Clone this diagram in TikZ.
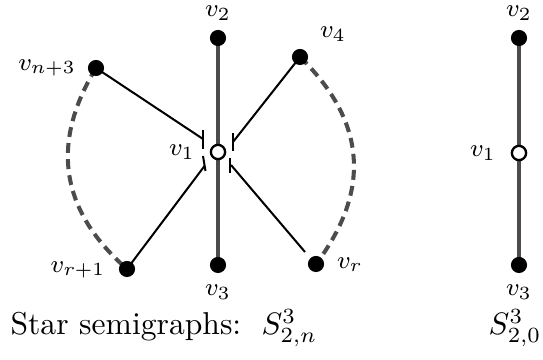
\documentclass[tikz,border=0pt]{standalone}
\begin{document}
\begin{tikzpicture}[x=0.3226pt,y=-0.3226pt,
  dot/.style={circle,fill=black,inner sep=0pt,minimum size=5.2pt},
  odot/.style={circle,draw=black,fill=white,line width=0.75pt,inner sep=0pt,minimum size=4.6pt},
  lbl/.style={inner sep=0pt,font=\fontsize{8}{10}\selectfont},
  captext/.style={inner sep=0pt,font=\fontsize{10.2}{12}\selectfont},
  semi/.style={draw=black!70,line width=1.4pt},
  dsh/.style={draw=black!70,line width=1.3pt,dash pattern=on 3.2pt off 2pt},
  edge/.style={draw=black,line width=0.65pt},
  tick/.style={draw=black,line width=0.65pt}]
\useasboundingbox (0,0) rectangle (543,360);
% left star
\coordinate (v1c) at (218,152);
\coordinate (vn3c) at (96,68);
\coordinate (vr1c) at (127,269);
\coordinate (v4c) at (300,57);
\coordinate (vrc) at (316,264);
% dashed arcs
\draw[dsh] (vn3c) .. controls (50,143.7) and (60.4,210.7) .. (vr1c);
\draw[dsh] (v4c) .. controls (366.1,121.3) and (371.5,190.3) .. (vrc);
% semi edges with ticks
\coordinate (e1) at (203,139);
\coordinate (t1a) at (203,130);
\coordinate (t1b) at (203,149);
\coordinate (e2) at (204.5,166);
\coordinate (t2a) at (203,156);
\coordinate (t2b) at (205.5,171);
\coordinate (e3) at (233,142);
\coordinate (t3a) at (233,133);
\coordinate (t3b) at (233,151);
\coordinate (e4) at (231,165);
\coordinate (t4a) at (230,158);
\coordinate (t4b) at (230,173);
\coordinate (e4s) at (305,252);
\draw[edge] (vn3c) -- (e1);
\draw[tick] (t1a) -- (t1b);
\draw[edge] (vr1c) -- (e2);
\draw[tick] (t2a) -- (t2b);
\draw[edge] (v4c) -- (e3);
\draw[tick] (t3a) -- (t3b);
\draw[edge] (e4s) -- (e4);
\draw[tick] (t4a) -- (t4b);
% vertical
\coordinate (v2c) at (218,38);
\coordinate (v3c) at (218,265);
\draw[semi] (v2c) -- (v3c);
\node[dot] (v2) at (v2c) {};
\node[dot] (v3) at (v3c) {};
\node[odot] (v1) at (v1c) {};
\node[dot] (vn3) at (vn3c) {};
\node[dot] (vr1) at (vr1c) {};
\node[dot] (v4) at (v4c) {};
\node[dot] (vr) at (vrc) {};
% labels
\node[lbl] (lv2) at (218,13) {$v_2$};
\node[lbl] (lv3) at (218,292) {$v_3$};
\node[lbl] (lv1) at (182,152) {$v_1$};
\node[lbl] (lvn3) at (47,68) {$v_{n+3}$};
\node[lbl] (lvr1) at (78,270) {$v_{r+1}$};
\node[lbl] (lv4) at (333,34) {$v_4$};
\node[lbl] (lvr) at (350,265) {$v_r$};
% right graph
\coordinate (w2c) at (519,38);
\coordinate (w3c) at (519,265);
\draw[semi] (w2c) -- (w3c);
\node[dot] (w2) at (w2c) {};
\node[dot] (w3) at (w3c) {};
\node[odot] (w1) at (519,153) {};
\node[lbl] (lw2) at (519,13) {$v_2$};
\node[lbl] (lw3) at (519,292) {$v_3$};
\node[lbl] (lw1) at (483,153) {$v_1$};
% captions
\node[captext,anchor=base west] (capt) at (10,335) {Star semigraphs:};
\node[captext,anchor=base west] (s2n) at (261,335) {$S^3_{2,n}$};
\node[captext,anchor=base east] (s20) at (542,335) {$S^3_{2,0}$};
\end{tikzpicture}
\end{document}
